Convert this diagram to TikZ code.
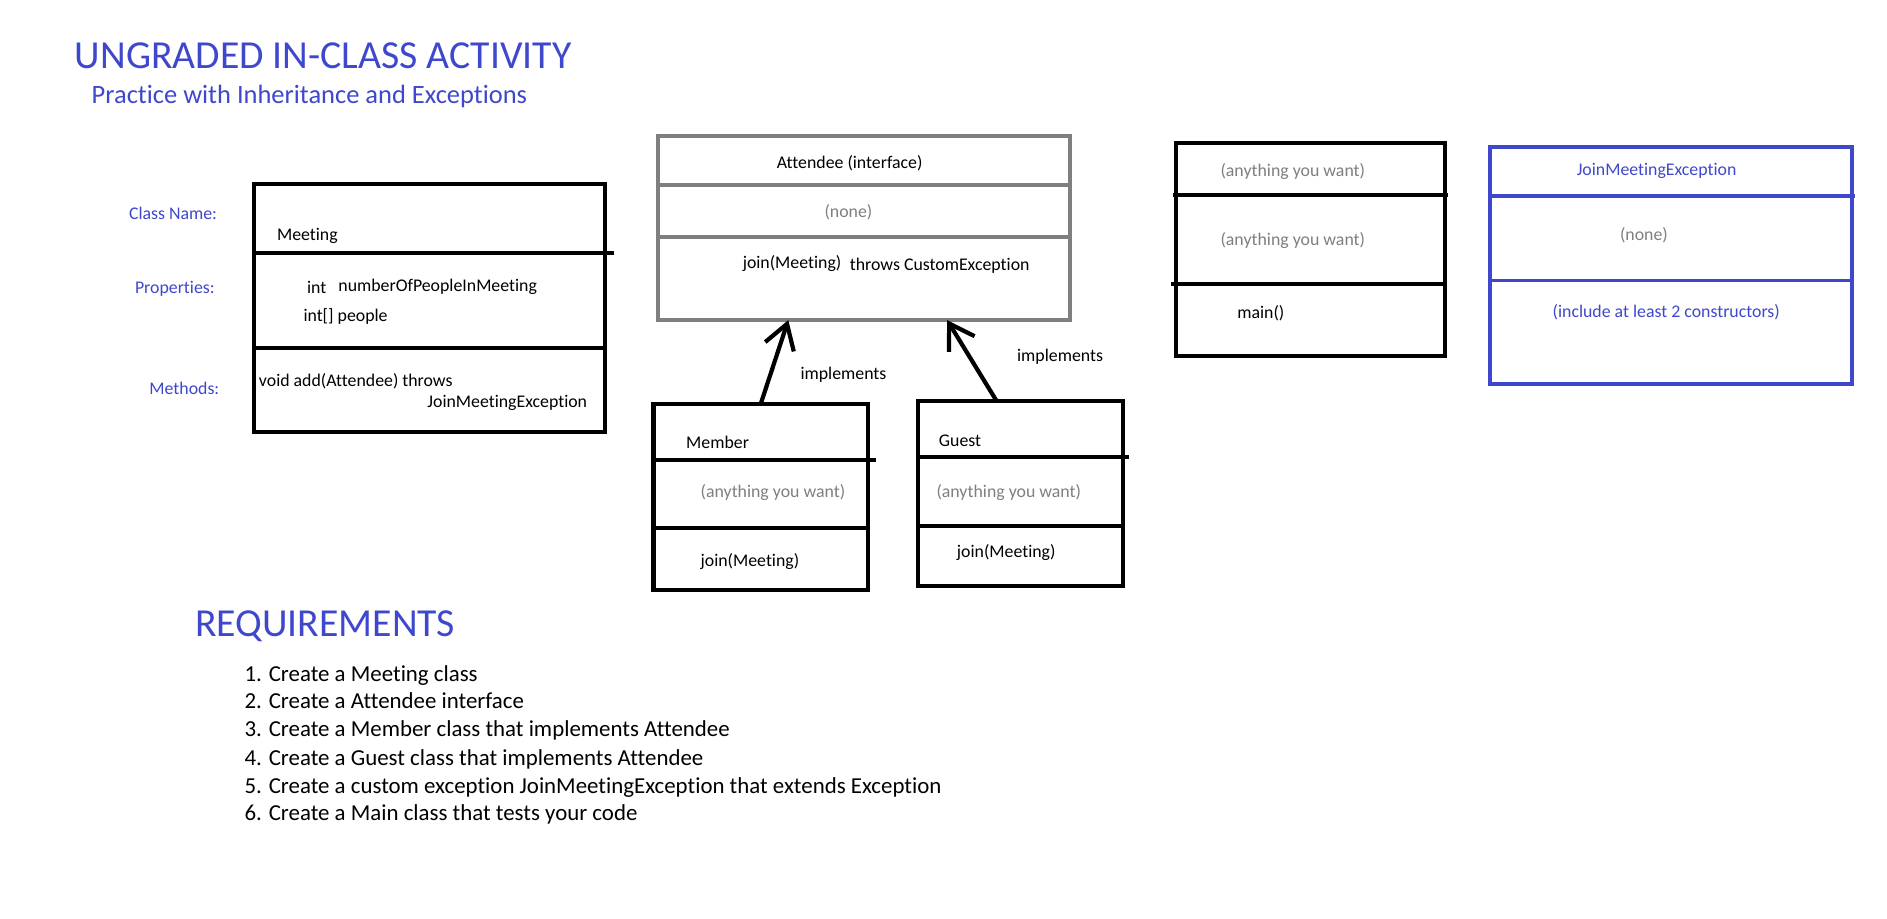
\documentclass[tikz,border=0pt]{standalone}
\usepackage{fontspec}
\setmainfont[Ligatures=CommonOff]{Carlito}
\usetikzlibrary{arrows.meta}
\definecolor{paintblue}{RGB}{63,72,204}
\definecolor{paintgrey}{RGB}{127,127,127}

\begin{document}
\begin{tikzpicture}[x=1pt, y=-1pt,
		box/.style={draw, line width=3.5pt, inner sep=0pt, outer sep=0pt},
		txt/.style={font=\fontsize{14.8}{17}\selectfont, inner sep=0pt, anchor=base west},
		req/.style={font=\fontsize{19}{22}\selectfont, inner sep=0pt, anchor=base west},
		>={Straight Barb[length=20pt, width=25pt]}]
		\fill[white] (0, 0) rectangle (1568, 763);
		\useasboundingbox (0, 0) rectangle (1568, 763);

		\node[txt, font=\fontsize{33}{38}\selectfont, paintblue] (title) at (62, 57) {UNGRADED IN-CLASS ACTIVITY};
		\node[txt, font=\fontsize{22}{26}\selectfont, paintblue] (subtitle) at (76, 86) {Practice with Inheritance and Exceptions};

		\node[txt, paintblue] (lclass) at (107, 182) {Class Name:};
		\node[txt, paintblue] (lprops) at (112, 244) {Properties:};
		\node[txt, paintblue] (lmeth) at (124, 328) {Methods:};

		% Meeting
		\node[box, minimum width=292pt, minimum height=206pt] (meeting) at (357, 256) {};
		\draw[line width=3.5pt] (211, 210) to (510, 210);
		\draw[line width=3.5pt] (211, 289) to (503, 289);
		\node[txt] (meetingname) at (230, 200) {Meeting};
		\node[txt] (propint) at (255, 244) {int};
		\node[txt] (propnum) at (281, 242) {numberOfPeopleInMeeting};
		\node[txt] (proppeople) at (252, 267) {int[] people};
		\node[txt] (methadd) at (215, 321) {void add(Attendee) throws};
		\node[txt] (methexc) at (355, 339) {JoinMeetingException};

		% Attendee
		\node[box, draw=paintgrey, line width=3.2pt, minimum width=342pt, minimum height=153pt] (attendee) at (718, 189.5) {};
		\draw[paintgrey, line width=3.2pt] (547, 154) to (889, 154);
		\draw[paintgrey, line width=3.2pt] (547, 197) to (889, 197);
		\node[txt, anchor=base] (attname) at (706, 140) {Attendee (interface)};
		\node[txt, anchor=base, paintgrey] (attnone) at (705, 181) {(none)};
		\node[txt] (attjoin) at (617, 223) {join(Meeting)};
		\node[txt] (attthrows) at (706, 225) {throws CustomException};

		% Member
		\node[box, minimum width=178pt, minimum height=154pt] (member) at (632, 413) {};
		\draw[line width=3.5pt] (541, 382) to (728, 382);
		\draw[line width=3.5pt] (543, 439) to (721, 439);
		\node[txt] (membername) at (570, 373) {Member};
		\node[txt, paintgrey] (memberprops) at (582, 413) {(anything you want)};
		\node[txt] (memberjoin) at (582, 471) {join(Meeting)};

		% Guest
		\node[box, minimum width=170pt, minimum height=154pt] (guest) at (848, 410) {};
		\draw[line width=3.5pt] (763, 380) to (938, 380);
		\draw[line width=3.5pt] (763, 437) to (933, 437);
		\node[txt] (guestname) at (780, 371) {Guest};
		\node[txt, paintgrey] (guestprops) at (778, 413) {(anything you want)};
		\node[txt] (guestjoin) at (795, 463) {join(Meeting)};

		\draw[->, line width=3.5pt] (member.north) to ([xshift=-63pt]attendee.south);
		\draw[->, line width=3.5pt] ([xshift=-20pt]guest.north) to ([xshift=69pt]attendee.south);
		\node[txt] (impl1) at (665, 315) {implements};
		\node[txt] (impl2) at (845, 300) {implements};

		% Main
		\node[box, minimum width=224pt, minimum height=177pt] (main) at (1089, 207.5) {};
		\draw[line width=3.5pt] (975, 162) to (1203, 162);
		\draw[line width=3.5pt] (973, 236) to (1201, 236);
		\node[txt, paintgrey] (mainname) at (1014, 147) {(anything you want)};
		\node[txt, paintgrey] (mainprops) at (1014, 204) {(anything you want)};
		\node[txt] (mainmeth) at (1028, 265) {main()};

		% JoinMeetingException
		\node[box, draw=paintblue, line width=3pt, minimum width=301pt, minimum height=197pt] (jme) at (1388.5, 220.5) {};
		\draw[paintblue, line width=3pt] (1240, 163) to (1541, 163);
		\draw[paintblue, line width=3pt] (1240, 233) to (1539, 233);
		\node[txt, paintblue] (jmename) at (1310, 146) {JoinMeetingException};
		\node[txt, paintgrey] (jmenone) at (1346, 200) {(none)};
		\node[txt, paintblue] (jmemeth) at (1290, 264) {(include at least 2 constructors)};

		% requirements
		\node[txt, font=\fontsize{33}{38}\selectfont, paintblue] (reqtitle) at (162, 529) {REQUIREMENTS};
		\node[req] (req1) at (203, 566) {1. Create a Meeting class};
		\node[req] (req2) at (203, 589) {2. Create a Attendee interface};
		\node[req] (req3) at (203, 612) {3. Create a Member class that implements Attendee};
		\node[req] (req4) at (203, 636) {4. Create a Guest class that implements Attendee};
		\node[req] (req5) at (203, 659) {5. Create a custom exception JoinMeetingException that extends Exception};
		\node[req] (req6) at (203, 682) {6. Create a Main class that tests your code};
	\end{tikzpicture}
\end{document}
